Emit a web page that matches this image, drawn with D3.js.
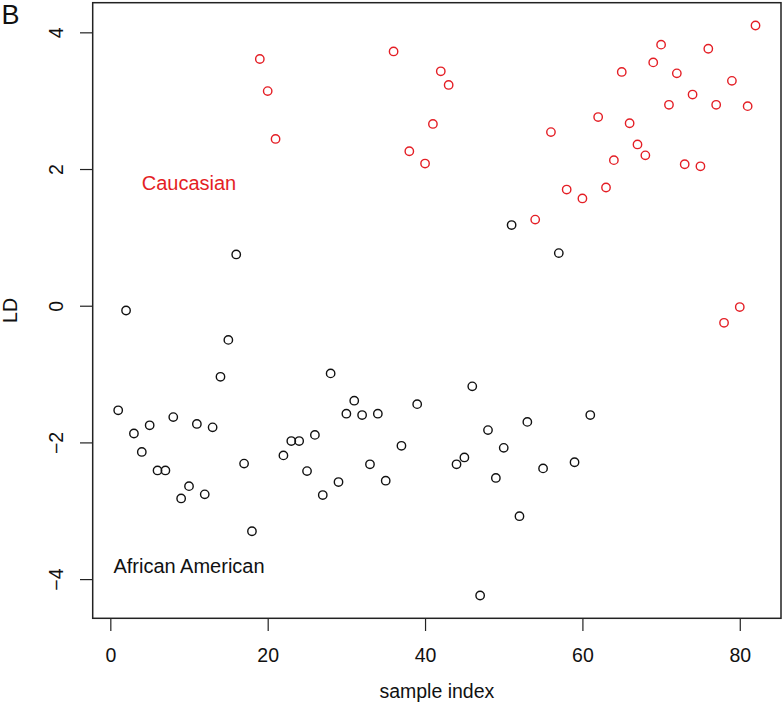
<!DOCTYPE html>
<html>
<head>
<meta charset="utf-8">
<script src="https://cdn.jsdelivr.net/npm/d3@7"></script>
<style>
  html, body { margin: 0; padding: 0; background: #fff; }
  svg { display: block; }
  text { font-family: "Liberation Sans", Arial, Helvetica, sans-serif; }
</style>
</head>
<body>
<svg id="chart" width="784" height="716"></svg>
<script>
// ---- data ----
const sampleIndex = [1,2,3,4,5,6,7,8,9,10,11,12,13,14,15,16,17,18,19,20,
  21,22,23,24,25,26,27,28,29,30,31,32,33,34,35,36,37,38,39,40,
  41,42,43,44,45,46,47,48,49,50,51,52,53,54,55,56,57,58,59,60,
  61,62,63,64,65,66,67,68,69,70,71,72,73,74,75,76,77,78,79,80,81,82];
const ldValues = [-1.53,-0.07,-1.87,-2.14,-1.75,-2.41,-2.41,-1.63,-2.82,-2.64,
  -1.73,-2.76,-1.78,-1.04,-0.50,0.75,-2.31,-3.30,3.61,3.14,
  2.44,-2.19,-1.98,-1.98,-2.42,-1.89,-2.77,-0.99,-2.58,-1.58,
  -1.39,-1.60,-2.32,-1.58,-2.56,3.72,-2.05,2.26,-1.44,2.08,
  2.66,3.43,3.23,-2.32,-2.22,-1.18,-4.24,-1.82,-2.52,-2.08,
  1.18,-3.08,-1.70,1.26,-2.38,2.54,0.77,1.70,-2.29,1.57,
  -1.60,2.76,1.73,2.13,3.42,2.67,2.36,2.20,3.56,3.82,
  2.94,3.40,2.07,3.09,2.04,3.76,2.94,-0.25,3.29,-0.02,2.92,4.10];
const groupLabel = ["AA","AA","AA","AA","AA","AA","AA","AA","AA","AA",
  "AA","AA","AA","AA","AA","AA","AA","AA","CA","CA",
  "CA","AA","AA","AA","AA","AA","AA","AA","AA","AA",
  "AA","AA","AA","AA","AA","CA","AA","CA","AA","CA",
  "CA","CA","CA","AA","AA","AA","AA","AA","AA","AA",
  "AA","AA","AA","CA","AA","CA","AA","CA","AA","CA",
  "AA","CA","CA","CA","CA","CA","CA","CA","CA","CA",
  "CA","CA","CA","CA","CA","CA","CA","CA","CA","CA","CA","CA"];
const xTicks = [0, 20, 40, 60, 80];
const yTicks = [-4, -2, 0, 2, 4];
const groupNames = ["African American", "Caucasian"];
const groupKeys = ["AA", "CA"];
const groupTextPos = [[10, -3.8], [10, 1.8]];

// ---- layout ----
const L = 92.7, R = 781, T = 2.7, B = 618.3;
const colors = { AA: "#111111", CA: "#e41e25" };

const pad = (ext) => { const d = (ext[1] - ext[0]) * 0.04; return [ext[0] - d, ext[1] + d]; };
const x = d3.scaleLinear().domain(pad(d3.extent(sampleIndex))).range([L, R]);
const y = d3.scaleLinear().domain(pad(d3.extent(ldValues))).range([B, T]);

const svg = d3.select("#chart");
const fontSize = 19.5;

// points
const pts = sampleIndex.map((d, i) => ({ i: d, v: ldValues[i], g: groupLabel[i] }));
svg.append("g").selectAll("circle").data(pts).join("circle")
  .attr("cx", d => x(d.i)).attr("cy", d => y(d.v)).attr("r", 4.2)
  .attr("fill", "none").attr("stroke", d => colors[d.g]).attr("stroke-width", 1.4);

// x axis
const xAxis = svg.append("g").attr("transform", `translate(0,${B})`)
  .call(d3.axisBottom(x).tickValues(xTicks).tickSize(12.7).tickPadding(17.5).tickFormat(d => String(d)));
xAxis.select(".domain").remove();
xAxis.selectAll("line").attr("stroke", "#222").attr("stroke-width", 1.2);
xAxis.selectAll("text").attr("font-size", fontSize).attr("fill", "#111")
  .style("font-family", "'Liberation Sans', Arial, sans-serif");

// y axis
const yAxis = svg.append("g").attr("transform", `translate(${L},0)`)
  .call(d3.axisLeft(y).tickValues(yTicks).tickSize(12.7).tickFormat(d => d < 0 ? "\u2212" + Math.abs(d) : String(d)));
yAxis.select(".domain").remove();
yAxis.selectAll("line").attr("stroke", "#222").attr("stroke-width", 1.2);
yAxis.selectAll("text")
  .attr("x", null).attr("dy", null)
  .attr("transform", "translate(-36.5,0) rotate(-90)")
  .attr("dy", "0.36em")
  .attr("text-anchor", "middle")
  .attr("font-size", fontSize).attr("fill", "#111")
  .style("font-family", "'Liberation Sans', Arial, sans-serif");

// box
svg.append("rect").attr("x", L).attr("y", T).attr("width", R - L).attr("height", B - T)
  .attr("fill", "none").attr("stroke", "#222").attr("stroke-width", 1.5);

// axis titles
svg.append("text").attr("x", (L + R) / 2).attr("y", 697.5).attr("text-anchor", "middle")
  .attr("font-size", fontSize).attr("fill", "#111").text("sample index");
svg.append("text").attr("transform", `translate(17,${(T + B) / 2}) rotate(-90)`)
  .attr("text-anchor", "middle").attr("font-size", fontSize).attr("fill", "#111").text("LD");

// group labels
svg.append("g").selectAll("text").data(groupKeys).join("text")
  .attr("x", (d, i) => x(groupTextPos[i][0]))
  .attr("y", (d, i) => y(groupTextPos[i][1]))
  .attr("dy", "0.36em")
  .attr("text-anchor", "middle").attr("font-size", 20).attr("fill", d => colors[d])
  .text((d, i) => groupNames[i]);

// panel letter
svg.append("text").attr("x", 1.5).attr("y", 24).attr("font-size", 27).attr("fill", "#111").text("B");
</script>
</body>
</html>
